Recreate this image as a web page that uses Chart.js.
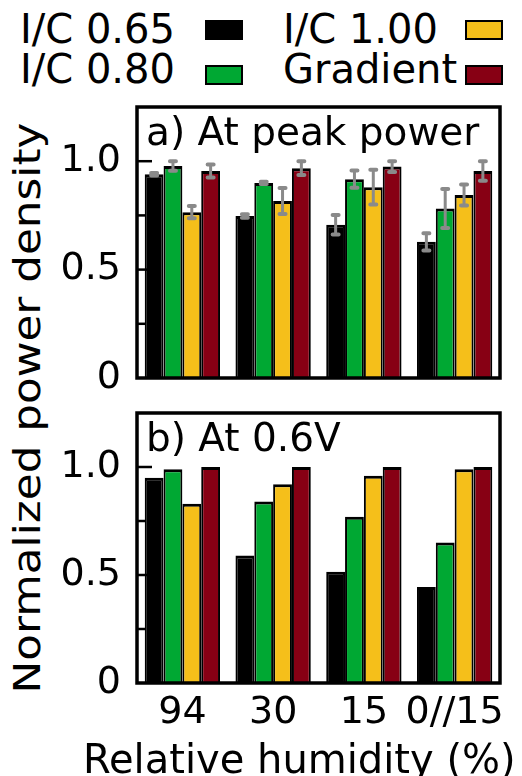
<!DOCTYPE html>
<html>
<head>
<meta charset="utf-8">
<script src="https://cdn.jsdelivr.net/npm/chart.js@4/dist/chart.umd.min.js"></script>
<style>
html,body{margin:0;padding:0;background:#fff;}
#wrap{position:relative;width:522px;height:776px;overflow:hidden;font-family:'DejaVu Sans',sans-serif;color:#000;}
.lg{position:absolute;font-size:40px;line-height:40px;white-space:nowrap;}
.sw{position:absolute;width:34px;height:16px;border:2px solid #000;}
#cA{position:absolute;left:0;top:100px;}
#cB{position:absolute;left:0;top:390px;}
#ytitle{position:absolute;left:27px;top:408px;font-size:38px;line-height:38px;white-space:nowrap;
  transform:translate(-50%,-50%) rotate(-90deg) scaleX(1.15);}
#xtitle{position:absolute;left:83px;top:739px;font-size:40px;line-height:40px;white-space:nowrap;}
</style>
</head>
<body>
<div id="wrap">
  <div id="legend"></div>
  <div id="ytitle">Normalized power density</div>
  <canvas id="cA" width="522" height="300"></canvas>
  <canvas id="cB" width="522" height="386"></canvas>
  <div id="xtitle"></div>
</div>
<script>
// ---- data ----
const categories = ['94', '30', '15', '0//15'];
const seriesNames = ['I/C 0.65', 'I/C 0.80', 'I/C 1.00', 'Gradient'];
const seriesColors = ['#000000', '#00a833', '#f5bf1a', '#870014'];

// a) At peak power
const peakIC065 = [0.94, 0.747, 0.707, 0.628];
const peakIC080 = [0.978, 0.90, 0.917, 0.782];
const peakIC100 = [0.765, 0.816, 0.88, 0.844];
const peakGrad  = [0.955, 0.968, 0.975, 0.955];
const errIC065 = [0.006, 0.008, 0.045, 0.04];
const errIC080 = [0.022, 0.005, 0.04, 0.09];
const errIC100 = [0.028, 0.06, 0.08, 0.048];
const errGrad  = [0.03, 0.032, 0.025, 0.045];

// b) At 0.6V
const v06IC065 = [0.95, 0.59, 0.515, 0.445];
const v06IC080 = [0.99, 0.84, 0.77, 0.65];
const v06IC100 = [0.83, 0.92, 0.96, 0.99];
const v06Grad  = [1.0, 1.0, 1.0, 1.0];

const yTickLabels = {0: '0', 0.5: '0.5', 1: '1.0'};
const xAxisTitle = 'Relative humidity (%)';
const panelTitles = ['a) At peak power', 'b) At 0.6V'];

document.getElementById('xtitle').textContent = xAxisTitle;

// ---- legend (HTML) ----
(function(){
  const lg = document.getElementById('legend');
  const order = [0, 2, 1, 3];
  const pos = [[20, 9, 205, 20], [283, 9, 465, 20], [20, 49, 205, 65], [283, 49, 465, 65]];
  order.forEach((si, k) => {
    const t = document.createElement('div');
    t.className = 'lg'; t.textContent = seriesNames[si];
    t.style.left = pos[k][0] + 'px'; t.style.top = pos[k][1] + 'px';
    lg.appendChild(t);
    const b = document.createElement('div');
    b.className = 'sw'; b.style.background = seriesColors[si];
    b.style.left = pos[k][2] + 'px'; b.style.top = pos[k][3] + 'px';
    lg.appendChild(b);
  });
})();

const FONT = "'DejaVu Sans', sans-serif";

const innerTicks = {
  id: 'innerTicks',
  beforeDatasetsDraw(chart) {
    const ctx = chart.ctx, ys = chart.scales.y, ca = chart.chartArea;
    ctx.save();
    ctx.strokeStyle = '#000'; ctx.lineWidth = 2.5;
    [0.25, 0.5, 0.75, 1.0].forEach(v => {
      const y = ys.getPixelForValue(v);
      const len = (v === 0.5 || v === 1.0) ? 15 : 8;
      ctx.beginPath(); ctx.moveTo(ca.left, y); ctx.lineTo(ca.left + len, y); ctx.stroke();
    });
    ctx.restore();
  }
};

const frame = {
  id: 'frame',
  afterDatasetsDraw(chart, args, opts) {
    const ctx = chart.ctx, ca = chart.chartArea;
    ctx.save();
    ctx.strokeStyle = '#000'; ctx.lineWidth = 3.5;
    ctx.strokeRect(ca.left, ca.top, ca.right - ca.left, ca.bottom - ca.top);
    ctx.fillStyle = '#000';
    ctx.font = '39px ' + FONT;
    ctx.textBaseline = 'alphabetic'; ctx.textAlign = 'left';
    ctx.fillText(opts.text, ca.left + 9, ca.top + 38);
    ctx.restore();
  }
};

const errorBars = {
  id: 'errorBars',
  afterDatasetsDraw(chart) {
    const ctx = chart.ctx, ys = chart.scales.y;
    chart.data.datasets.forEach((ds, i) => {
      if (!ds.errors) return;
      const meta = chart.getDatasetMeta(i);
      meta.data.forEach((el, j) => {
        const v = ds.data[j], e = ds.errors[j];
        const x = el.x;
        const y1 = ys.getPixelForValue(v + e), y2 = ys.getPixelForValue(v - e);
        ctx.save();
        ctx.strokeStyle = '#8a8a8a'; ctx.lineCap = 'round';
        ctx.lineWidth = 3;
        ctx.beginPath(); ctx.moveTo(x, y1); ctx.lineTo(x, y2); ctx.stroke();
        ctx.lineWidth = 4;
        ctx.beginPath();
        ctx.moveTo(x - 3, y1); ctx.lineTo(x + 3, y1);
        ctx.moveTo(x - 3, y2); ctx.lineTo(x + 3, y2);
        ctx.stroke();
        ctx.restore();
      });
    });
  }
};

function makeDatasets(values, errors) {
  return values.map((vals, i) => ({
    label: seriesNames[i],
    data: vals,
    errors: errors ? errors[i] : null,
    backgroundColor: seriesColors[i],
    borderColor: '#000',
    borderWidth: {top: 3, left: 2, right: 2, bottom: 0},
    borderSkipped: false,
    barPercentage: 1.0,
    categoryPercentage: 0.83
  }));
}

function makeChart(id, datasets, title, showX, padding) {
  return new Chart(document.getElementById(id), {
    type: 'bar',
    data: {labels: categories, datasets},
    options: {
      responsive: false,
      animation: false,
      devicePixelRatio: 1,
      layout: {padding},
      plugins: {
        legend: {display: false},
        tooltip: {enabled: false},
        frame: {text: title}
      },
      scales: {
        x: {
          display: showX,
          grid: {display: false, drawTicks: false},
          border: {display: false},
          ticks: {color: '#000', font: {family: FONT, size: 38}, padding: 7, maxRotation: 0, autoSkip: false},
          afterFit(s) { if (showX) s.height = 93; s.paddingLeft = 0; s.paddingRight = 0; }
        },
        y: {
          min: 0, max: 1.25,
          grid: {display: false, drawTicks: false},
          border: {display: false},
          ticks: {
            stepSize: 0.25, color: '#000', padding: 16,
            font: {family: FONT, size: 38},
            callback: v => (yTickLabels[v] !== undefined ? yTickLabels[v] : '')
          },
          afterFit(s) { s.width = 137; s.paddingTop = 0; s.paddingBottom = 0; }
        }
      }
    },
    plugins: [innerTicks, frame, errorBars]
  });
}

makeChart('cA',
  makeDatasets([peakIC065, peakIC080, peakIC100, peakGrad], [errIC065, errIC080, errIC100, errGrad]),
  panelTitles[0], false, {top: 7, bottom: 22, left: 0, right: 22});
makeChart('cB',
  makeDatasets([v06IC065, v06IC080, v06IC100, v06Grad], null),
  panelTitles[1], true, {top: 23, bottom: 0, left: 0, right: 22});
</script>
</body>
</html>
